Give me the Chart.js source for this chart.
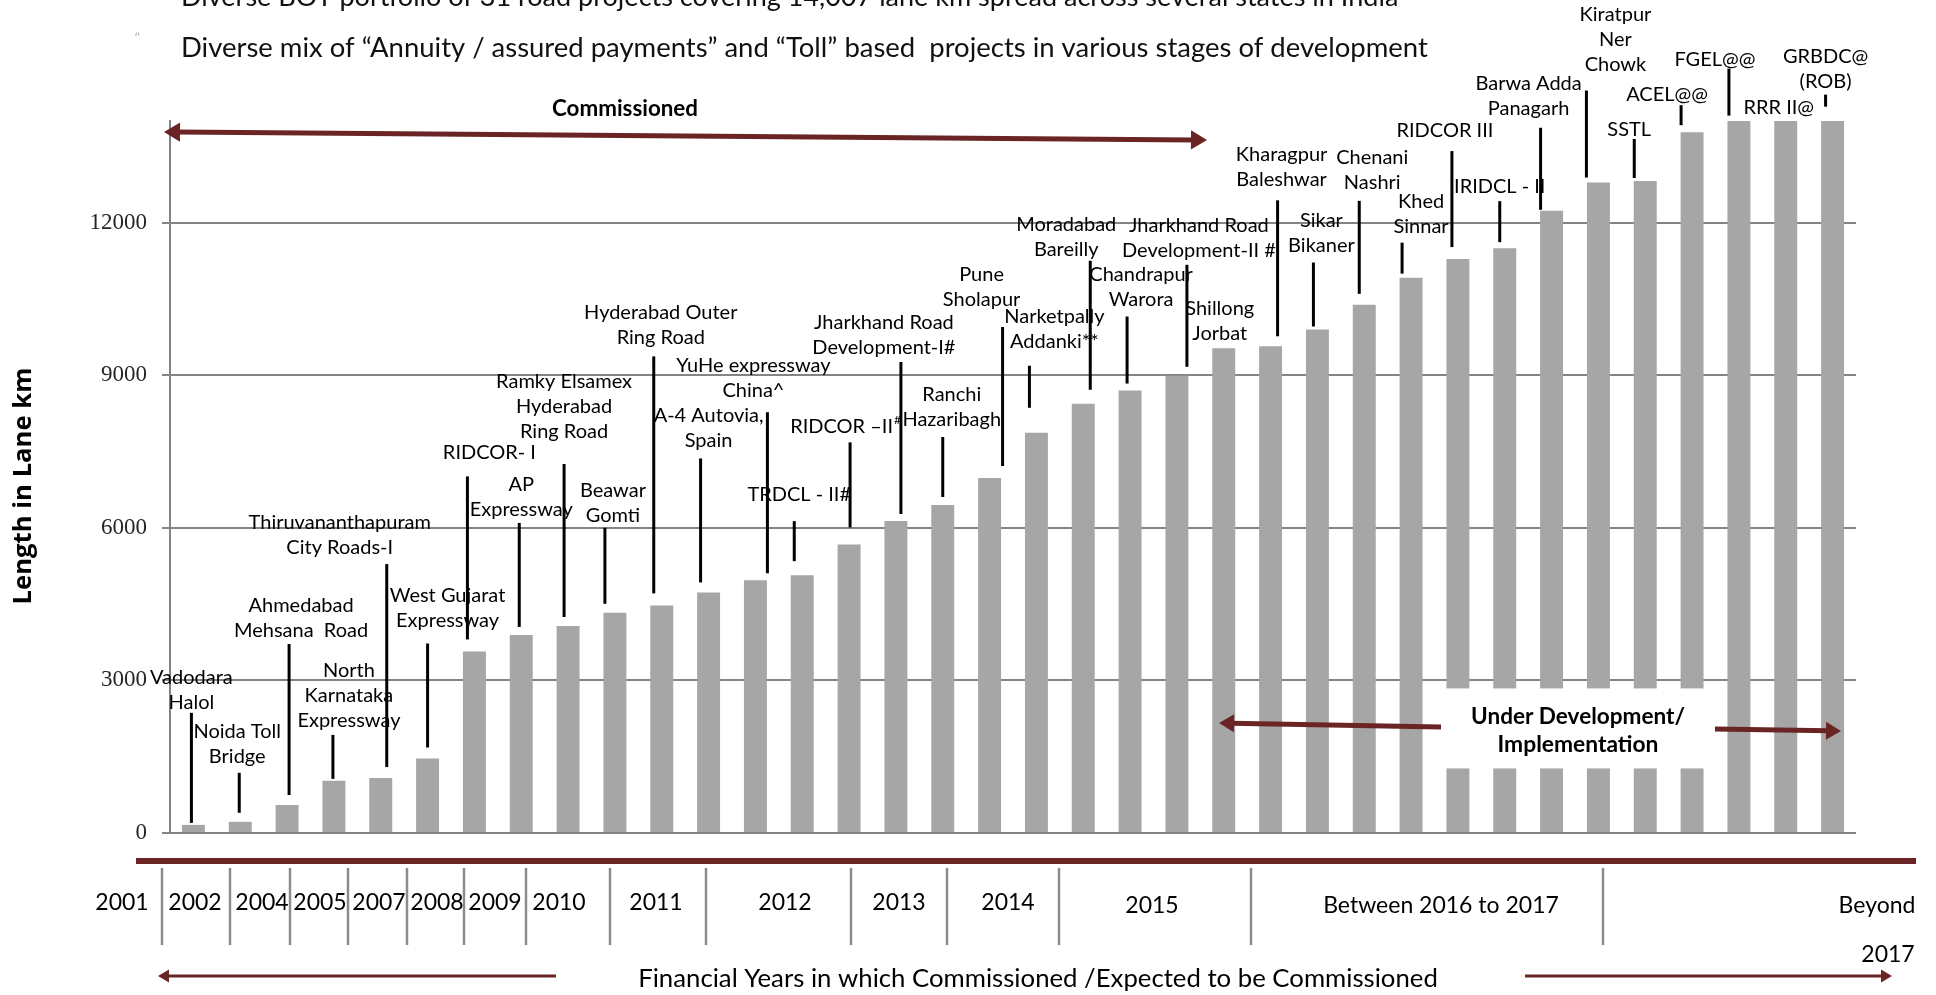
<!DOCTYPE html>
<html>
<head>
<meta charset="utf-8">
<script src="https://cdn.jsdelivr.net/npm/chart.js@4.4.0/dist/chart.umd.min.js"></script>
<style>
  html, body { margin: 0; padding: 0; background: #fff; }
</style>
</head>
<body>
<canvas id="road-chart" width="1936" height="995"></canvas>
<script>
// cumulative lane km after each project
const projects = [
  ["Vadodara", "Halol"],
  ["Noida Toll", "Bridge"],
  ["Ahmedabad", "Mehsana  Road"],
  ["North", "Karnataka", "Expressway"],
  ["Thiruvananthapuram", "City Roads-I"],
  ["West Gujarat", "Expressway"],
  ["RIDCOR- I"],
  ["AP", "Expressway"],
  ["Ramky Elsamex", "Hyderabad", "Ring Road"],
  ["Beawar", "Gomti"],
  ["Hyderabad Outer", "Ring Road"],
  ["A-4 Autovia,", "Spain"],
  ["YuHe expressway", "China^"],
  ["TRDCL - II#"],
  ["RIDCOR \u2013II{#}"],
  ["Jharkhand Road", "Development-I#"],
  ["Ranchi", "Hazaribagh"],
  ["Pune", "Sholapur"],
  ["Narketpally", "Addanki**"],
  ["Moradabad", "Bareilly"],
  ["Chandrapur", "Warora"],
  ["Jharkhand Road", "Development-II #"],
  ["Shillong", "Jorbat"],
  ["Kharagpur", "Baleshwar"],
  ["Sikar", "Bikaner"],
  ["Chenani", "Nashri"],
  ["Khed", "Sinnar"],
  ["RIDCOR III"],
  ["IRIDCL - II"],
  ["Barwa Adda", "Panagarh"],
  ["Kiratpur", "Ner", "Chowk"],
  ["SSTL"],
  ["ACEL@@"],
  ["FGEL@@"],
  ["RRR II@"],
  ["GRBDC@", "(ROB)"],
];

const laneKm = [
  160, 220, 550, 1025, 1080, 1465, 3570, 3895, 4070, 4330, 4475, 4730,
  4970, 5070, 5675, 6135, 6450, 6980, 7870, 8440, 8700, 8990, 9530, 9570,
  9900, 10385, 10920, 11285, 11500, 12235, 12790, 12820, 13780, 14007, 14007, 14007,
];

const yTicks = [0, 3000, 6000, 9000, 12000];

const yearLabels = [
  "2001", "2002", "2004", "2005", "2007", "2008", "2009", "2010",
  "2011", "2012", "2013", "2014", "2015", "Between 2016 to 2017",
];

// label placement relative to each bar: [text dx, first line dy, leader dx, leader top, leader bottom]
const labelLayout = [
  [-2, -147, -2, -112, -2], [-3, -90, -1, -49, -9], [14, -199, 2, -161, -10],
  [15, -110, -1, -46, -2], [-41, -256, 6, -214, -11], [20, -163, 0, -115, -11],
  [15, -199, -7, -175, -12], [0, -150, -2, -112, -8], [-4, -244, -4, -162, -9],
  [-2, -122, -10, -85, -9], [-1, -293, -8, -249, -12], [0, -177, -8, -134, -10],
  [-2, -215, 12, -168, -7], [-3, -81, -8, -54, -14], [-4, -118, 1, -102, -17],
  [-12, -198, 5, -159, -7], [9, -110, 0, -68, -8], [-8, -203, 13, -151, -12],
  [18, -116, -7, -67, -25], [-17, -179, 7, -143, -14], [11, -116, -3, -74, -7],
  [22, -150, 10, -111, -9], [-4, -40], [11, -192, 7, -146, -10],
  [4, -109, -4, -67, -3], [8, -147, -5, -104, -11], [10, -76, -9, -35, -4],
  [-13, -129, -6, -108, -12], [-5, -62, -5, -47, -6], [-23, -127, -11, -83, -1],
  [17, -168, -12, -92, -5], [-16, -51, -11, -42, -3], [-25, -38, -11, -27, -7],
  [-24, -61, -10, -52, -5], [-7, -13], [-7, -64, -7, -26, -14],
];

// x of year captions and separators below the chart
const yearLabelX = [122, 195, 262, 320, 379, 437, 495, 559, 656, 785, 899, 1008, 1152, 1441];
const separatorX = [162, 230, 290, 348, 407, 464, 526, 610, 706, 851, 947, 1059, 1251, 1603];

const maroon = "#6a2424";
const labelFont = "20px Lato";

function fitText(ctx, text, x, y, width, weight, family) {
  ctx.font = `${weight} 100px ${family}`;
  const size = (100 * width) / ctx.measureText(text).width;
  ctx.font = `${weight} ${size}px ${family}`;
  ctx.fillText(text, x, y);
}

function arrow(ctx, x1, y1, x2, y2, w, head, twoWay) {
  const a = Math.atan2(y2 - y1, x2 - x1);
  const c = Math.cos(a), s = Math.sin(a);
  ctx.save();
  ctx.strokeStyle = maroon;
  ctx.fillStyle = maroon;
  ctx.lineWidth = w;
  ctx.beginPath();
  ctx.moveTo(x1 + (twoWay ? head * c * 0.8 : 0), y1 + (twoWay ? head * s * 0.8 : 0));
  ctx.lineTo(x2 - head * c * 0.8, y2 - head * s * 0.8);
  ctx.stroke();
  const tip = (x, y, ang) => {
    ctx.save();
    ctx.translate(x, y);
    ctx.rotate(ang);
    ctx.beginPath();
    ctx.moveTo(0, 0);
    ctx.lineTo(-head, -head * 0.6);
    ctx.lineTo(-head, head * 0.6);
    ctx.closePath();
    ctx.fill();
    ctx.restore();
  };
  tip(x2, y2, a);
  if (twoWay) tip(x1, y1, a + Math.PI);
  ctx.restore();
}

function drawLabel(ctx, text, x, y) {
  const m = text.match(/^(.*)\{(.*)\}$/);
  if (!m) {
    ctx.fillText(text, x, y);
    return;
  }
  ctx.font = labelFont;
  const main = ctx.measureText(m[1]).width;
  ctx.font = "12px Lato";
  const sup = ctx.measureText(m[2]).width;
  const left = x - (main + sup) / 2;
  ctx.textAlign = "left";
  ctx.font = labelFont;
  ctx.fillText(m[1], left, y);
  ctx.font = "12px Lato";
  ctx.fillText(m[2], left + main + 1, y - 6);
  ctx.font = labelFont;
  ctx.textAlign = "center";
}

const overlay = {
  id: "overlay",
  afterDraw(chart) {
    const ctx = chart.ctx;
    const yScale = chart.scales.y;
    const bars = chart.getDatasetMeta(0).data;
    ctx.save();

    // gap cut into the "under development" bars
    const half = bars[1].x - bars[0].x;
    const gapTop = yScale.getPixelForValue(3000) + 8;
    ctx.fillStyle = "#fff";
    ctx.fillRect(bars[27].x - half / 2, gapTop, bars[32].x - bars[27].x + half, 80);

    // project names with leader lines
    ctx.fillStyle = "#000";
    ctx.textAlign = "center";
    ctx.textBaseline = "middle";
    ctx.font = labelFont;
    bars.forEach((bar, i) => {
      const [dx, dy] = labelLayout[i];
      projects[i].forEach((line, k) => drawLabel(ctx, line, bar.x + dx, bar.y + dy + k * 25));
    });
    ctx.strokeStyle = "#000";
    ctx.lineWidth = 3;
    bars.forEach((bar, i) => {
      const [, , lx, l1, l2] = labelLayout[i];
      if (lx === undefined) return;
      ctx.beginPath();
      ctx.moveTo(bar.x + lx, bar.y + l1);
      ctx.lineTo(bar.x + lx, bar.y + l2);
      ctx.stroke();
    });

    // titles above the chart
    ctx.fillStyle = "#111";
    ctx.textAlign = "left";
    ctx.textBaseline = "alphabetic";
    fitText(ctx, "Diverse BOT portfolio of 31 road projects covering 14,007 lane km spread across several states in India", 181, 6, 1218, "normal", "Lato");
    fitText(ctx, "Diverse mix of \u201cAnnuity / assured payments\u201d and \u201cToll\u201d based  projects in various stages of development", 181, 57, 1247, "normal", "Lato");
    ctx.fillStyle = "#aaa";
    ctx.font = "12px Lato";
    ctx.fillText("\u2033", 134, 42);

    ctx.fillStyle = "#000";
    ctx.textAlign = "center";
    ctx.textBaseline = "middle";
    fitText(ctx, "Commissioned", 625, 109, 146, "bold", "Lato");
    arrow(ctx, 164, 132, 1207, 140, 5, 16, true);

    fitText(ctx, "Under Development/", 1578, 717, 214, "bold", "Lato");
    fitText(ctx, "Implementation", 1578, 745, 161, "bold", "Lato");
    arrow(ctx, 1441, 727, 1219, 723, 5, 15, false);
    arrow(ctx, 1715, 729, 1841, 731, 5, 15, false);

    // y axis title
    ctx.save();
    ctx.translate(24, 486);
    ctx.rotate(-Math.PI / 2);
    fitText(ctx, "Length in Lane km", 0, 0, 237, "bold", "'Open Sans'");
    ctx.restore();

    // year strip
    ctx.fillStyle = maroon;
    ctx.fillRect(136, 858, 1780, 6);
    ctx.strokeStyle = "#8c8c8c";
    ctx.lineWidth = 2.5;
    separatorX.forEach((x) => {
      ctx.beginPath();
      ctx.moveTo(x, 868);
      ctx.lineTo(x, 945);
      ctx.stroke();
    });
    ctx.fillStyle = "#000";
    ctx.font = "23px Lato";
    yearLabels.forEach((t, i) => ctx.fillText(t, yearLabelX[i], i >= 12 ? 906 : 903));
    ctx.fillText("Beyond", 1877, 906);
    ctx.fillText("2017", 1888, 955);

    fitText(ctx, "Financial Years in which Commissioned /Expected to be Commissioned", 1038, 979, 800, "normal", "Lato");
    arrow(ctx, 556, 976, 158, 976, 3, 11, false);
    arrow(ctx, 1525, 976, 1892, 976, 3, 11, false);

    ctx.restore();
  },
};

new Chart(document.getElementById("road-chart"), {
  type: "bar",
  data: {
    labels: projects.map((p) => p.join(" ")),
    datasets: [
      {
        label: "Lane km",
        data: laneKm,
        backgroundColor: "#a6a6a6",
        barPercentage: 0.49,
        categoryPercentage: 1,
      },
    ],
  },
  options: {
    responsive: false,
    animation: false,
    devicePixelRatio: 1,
    layout: { padding: { top: 121, right: 80, bottom: 162, left: 0 } },
    plugins: {
      legend: { display: false },
      tooltip: { enabled: false },
    },
    scales: {
      x: { display: false },
      y: {
        min: 0,
        max: 14000,
        afterBuildTicks: (axis) => {
          axis.ticks = yTicks.map((v) => ({ value: v }));
        },
        afterFit: (scale) => {
          scale.width = 170;
        },
        ticks: {
          padding: 15,
          color: "#262626",
          font: { family: "'Liberation Serif'", size: 23 },
          callback: (v) => String(v),
        },
        grid: { color: "#848484", lineWidth: 2, tickLength: 8 },
        border: { color: "#848484", width: 2 },
      },
    },
  },
  plugins: [overlay],
});
</script>
</body>
</html>
